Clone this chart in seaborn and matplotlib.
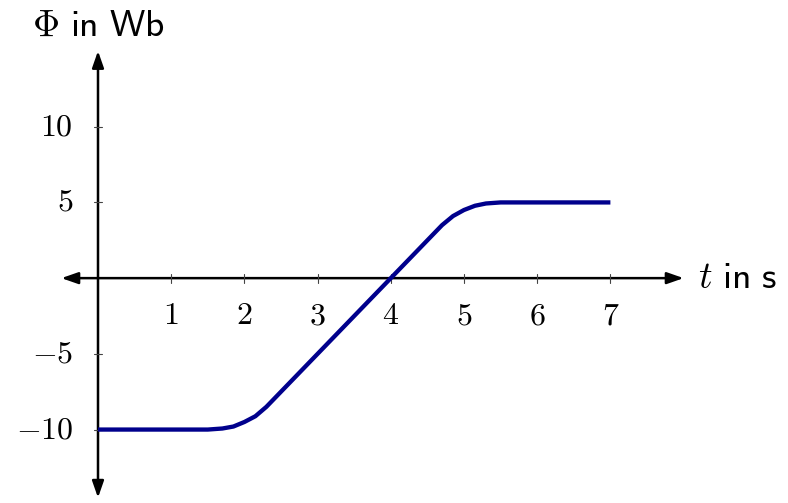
import numpy as np
import pandas as pd
import matplotlib
matplotlib.use("Agg")
import matplotlib.pyplot as plt
import seaborn as sns

# data
t = [0, 1.5, 1.7, 1.85, 2.0, 2.15, 2.3, 4.0, 4.7, 4.85, 5.0, 5.15, 5.3, 5.5, 7.0]
phi = [-10, -10, -9.93, -9.8, -9.5, -9.12, -8.5, 0.0, 3.5, 4.1, 4.5, 4.78, 4.93, 5.0, 5.0]
x_ticks = [1, 2, 3, 4, 5, 6, 7]
y_ticks = [-10, -5, 5, 10]

sns.set_style("white")
plt.rcParams["font.family"] = ["DejaVu Sans"]
plt.rcParams["mathtext.fontset"] = "cm"
plt.rcParams["text.color"] = "black"

fig = plt.figure(figsize=(7.88, 5.03), dpi=100)
ax = fig.add_axes([61.4 / 788, 5.3 / 503, 622.2 / 788, 446.7 / 503])

df = pd.DataFrame({"t": t, "phi": phi})
sns.lineplot(data=df, x="t", y="phi", ax=ax, color="#00008c", lw=3.1,
             solid_capstyle="butt", solid_joinstyle="round", zorder=3)

ax.set_xlim(-0.5, 8)
ax.set_ylim(-14.5, 15)

for s in ax.spines.values():
    s.set_visible(False)

# axis lines with arrows
arr = dict(arrowstyle="<|-|>,head_length=1.0,head_width=0.35", color="black",
           lw=1.8, shrinkA=0, shrinkB=0)
ax.annotate("", xy=(8, 0), xytext=(-0.5, 0), arrowprops=arr, zorder=2)
ax.annotate("", xy=(0, 15), xytext=(0, -14.5), arrowprops=arr, zorder=2)

# ticks
for x in x_ticks:
    ax.plot([x, x], [-0.3, 0.3], color="#444444", lw=0.8, zorder=2)
    ax.text(x, -1.45, f"${x}$", ha="center", va="top", fontsize=23)
for y in y_ticks:
    ax.plot([-0.055, 0.055], [y, y], color="#444444", lw=0.8, zorder=2)
    ax.text(-0.34, y, f"${y}$", ha="right", va="center", fontsize=23)

ax.set_xticks([])
ax.set_yticks([])
ax.set_xlabel("")
ax.set_ylabel("")

ax.text(8.2, 0, r"$t\ \mathsf{in\ s}$", ha="left", va="center", fontsize=27)
ax.text(0, 15.5, r"$\Phi\ \mathsf{in\ Wb}$", ha="center", va="bottom", fontsize=27)

fig.savefig("out.png", dpi=100)
